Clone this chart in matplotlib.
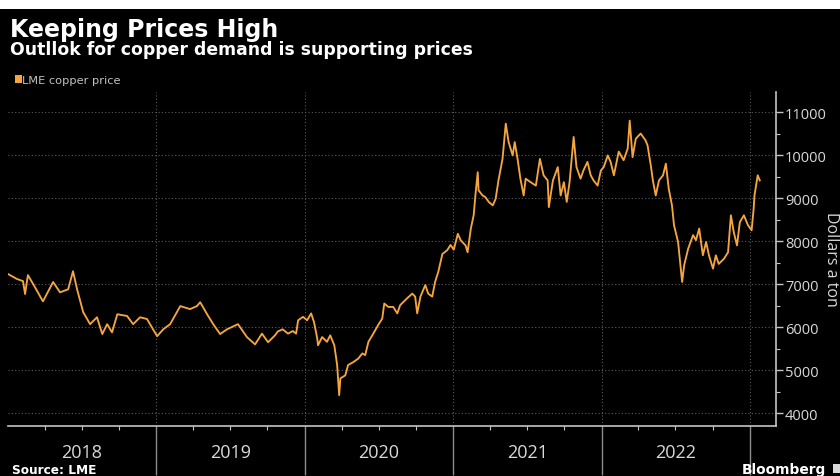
import matplotlib
matplotlib.use("Agg")
import matplotlib.pyplot as plt
import matplotlib.dates as mdates
import matplotlib.transforms as mtransforms
from matplotlib.patches import Rectangle
from matplotlib.ticker import MultipleLocator, FixedLocator, NullFormatter
import pandas as pd

# LME copper cash price, US dollars per metric ton
trade_dates = [
    "2018-01-02", "2018-01-23", "2018-02-07", "2018-02-12", "2018-02-19", "2018-03-04",
    "2018-03-28", "2018-04-22", "2018-05-09", "2018-05-29", "2018-06-10", "2018-06-20",
    "2018-07-05", "2018-07-22", "2018-08-08", "2018-08-21", "2018-09-02", "2018-09-14",
    "2018-09-27", "2018-10-21", "2018-11-05", "2018-11-22", "2018-12-09",
    "2019-01-03", "2019-01-18", "2019-02-04", "2019-03-01", "2019-03-25", "2019-04-11",
    "2019-04-19", "2019-05-06", "2019-05-21", "2019-06-07", "2019-06-24", "2019-07-21",
    "2019-08-12", "2019-09-01", "2019-09-18", "2019-10-03", "2019-10-20", "2019-10-27",
    "2019-11-08", "2019-11-21", "2019-12-03", "2019-12-11", "2019-12-16", "2019-12-28",
    "2020-01-07", "2020-01-17", "2020-01-24", "2020-02-01", "2020-02-03", "2020-02-13",
    "2020-02-25", "2020-03-04", "2020-03-14", "2020-03-21", "2020-03-26", "2020-03-29",
    "2020-04-10", "2020-04-17", "2020-04-30", "2020-05-12", "2020-05-22", "2020-05-29",
    "2020-06-06", "2020-06-18", "2020-06-30", "2020-07-10", "2020-07-15", "2020-07-25",
    "2020-08-06", "2020-08-16", "2020-08-23", "2020-09-09", "2020-09-22", "2020-09-29",
    "2020-10-04", "2020-10-12", "2020-10-24", "2020-10-31", "2020-11-10", "2020-11-17",
    "2020-11-25", "2020-12-05", "2020-12-17", "2020-12-25",
    "2021-01-02", "2021-01-12", "2021-01-19", "2021-01-31", "2021-02-05", "2021-02-13",
    "2021-02-20", "2021-02-25", "2021-03-02", "2021-03-04", "2021-03-14", "2021-03-21",
    "2021-03-29", "2021-04-08", "2021-04-15", "2021-04-22", "2021-05-02", "2021-05-10",
    "2021-05-17", "2021-05-27", "2021-06-01", "2021-06-08", "2021-06-15", "2021-06-23",
    "2021-06-28", "2021-07-10", "2021-07-23", "2021-08-02", "2021-08-11", "2021-08-21",
    "2021-08-24", "2021-09-03", "2021-09-15", "2021-09-22", "2021-09-30", "2021-10-07",
    "2021-10-14", "2021-10-24", "2021-10-31", "2021-11-10", "2021-11-17", "2021-11-27",
    "2021-12-05", "2021-12-12", "2021-12-22", "2021-12-30",
    "2022-01-06", "2022-01-16", "2022-01-23", "2022-01-31", "2022-02-12", "2022-02-24",
    "2022-03-06", "2022-03-11", "2022-03-18", "2022-03-26", "2022-04-07", "2022-04-19",
    "2022-04-24", "2022-05-02", "2022-05-07", "2022-05-14", "2022-05-22", "2022-06-01",
    "2022-06-08", "2022-06-15", "2022-06-23", "2022-06-28", "2022-07-08", "2022-07-13",
    "2022-07-18", "2022-07-23", "2022-08-02", "2022-08-14", "2022-08-21", "2022-08-29",
    "2022-09-07", "2022-09-15", "2022-09-22", "2022-10-02", "2022-10-09", "2022-10-16",
    "2022-10-29", "2022-11-08", "2022-11-15", "2022-11-22", "2022-11-30", "2022-12-07",
    "2022-12-17", "2022-12-27",
    "2023-01-05", "2023-01-10", "2023-01-12", "2023-01-20", "2023-01-25",
]
lme_copper_usd = [
    7230, 7120, 7070, 6770, 7210, 7000,
    6600, 7050, 6810, 6880, 7300, 6880,
    6350, 6070, 6230, 5840, 6070, 5880,
    6300, 6260, 6070, 6230, 6190,
    5790, 5950, 6070, 6490, 6420, 6490,
    6580, 6300, 6070, 5840, 5950, 6070,
    5770, 5600, 5850, 5650, 5810, 5900,
    5950, 5850, 5910, 5850, 6160, 6240,
    6160, 6320, 6120, 5740, 5580, 5770,
    5660, 5810, 5580, 5120, 4420, 4810,
    4880, 5120, 5190, 5270, 5390, 5350,
    5660, 5850, 6050, 6200, 6550, 6470,
    6470, 6320, 6510, 6670, 6780, 6710,
    6320, 6710, 6980, 6780, 6710, 7050,
    7290, 7700, 7790, 7910,
    7800, 8170, 8020, 7900, 7740, 8290,
    8600, 9140, 9600, 9180, 9060, 9020,
    8910, 8830, 8980, 9410, 9910, 10730,
    10300, 9990, 10300, 9910, 9450, 9060,
    9450, 9370, 9290, 9910, 9530, 9410,
    8790, 9410, 9720, 9060, 9370, 8910,
    9370, 10420, 9720, 9450, 9640, 9840,
    9530, 9410, 9290, 9640,
    9720, 9990, 9840, 9530, 10080, 9880,
    10150, 10800, 9950, 10380, 10500, 10340,
    10220, 9750, 9410, 9060, 9410, 9530,
    9800, 9220, 8830, 8370, 7980, 7520,
    7050, 7440, 7830, 8140, 8020, 8290,
    7670, 7980, 7670, 7360, 7670, 7470,
    7590, 7740, 8600, 8210, 7900, 8440,
    8600, 8370,
    8250, 8750, 9060, 9530, 9410,
]
year_labels = ["2018", "2019", "2020", "2021", "2022"]
price_ticks = [4000, 5000, 6000, 7000, 8000, 9000, 10000, 11000]

ORANGE = "#f4a53f"
GRID = "#5c5c5c"
AXIS = "#c4c4c4"
TEXT = "#d9d9d9"
NARROW = ["Liberation Sans Narrow", "Open Sans", "DejaVu Sans"]
SANS = ["Open Sans", "DejaVu Sans"]

W, H = 840, 477
fig = plt.figure(figsize=(W / 100, H / 100), dpi=100, facecolor="black")
fig.patches.append(Rectangle((0, 1 - 9.5 / H), 1, 9.5 / H, transform=fig.transFigure,
                             facecolor="white", edgecolor="none"))

ax = fig.add_axes([8 / W, 1 - 426.5 / H, 768 / W, (426.5 - 93) / H])
ax.set_facecolor("black")

dates = pd.to_datetime(trade_dates)
ax.plot(dates, lme_copper_usd, color=ORANGE, lw=1.35, solid_joinstyle="round", zorder=3)

ax.set_xlim(pd.Timestamp("2018-01-01"), pd.Timestamp("2023-03-06"))
ax.set_ylim(3715, 11465)

# price axis on the right
ax.yaxis.tick_right()
ax.yaxis.set_major_locator(FixedLocator(price_ticks))
ax.yaxis.set_minor_locator(MultipleLocator(500))
ax.tick_params(axis="y", which="major", direction="out", length=5, width=1,
               color=AXIS, labelsize=10.5, labelcolor=TEXT, pad=1.5)
ax.tick_params(axis="y", which="minor", direction="out", length=3, width=0.8, color=AXIS)
for lbl in ax.get_yticklabels():
    lbl.set_fontfamily(SANS)

# time axis: long ticks at year boundaries, short ticks at quarters
year_starts = pd.to_datetime([f"{int(y) + 1}-01-01" for y in year_labels])
ax.xaxis.set_major_locator(FixedLocator(mdates.date2num(year_starts)))
ax.xaxis.set_minor_locator(mdates.MonthLocator(bymonth=[4, 7, 10]))
ax.xaxis.set_major_formatter(NullFormatter())
ax.tick_params(axis="x", which="major", direction="out", length=35, width=1, color="#8c8c8c")
ax.tick_params(axis="x", which="minor", direction="out", length=3, width=0.8, color=AXIS)

ax.grid(True, which="major", axis="both", linestyle=(0, (1, 2)), color=GRID, lw=0.8, zorder=1)

for side in ("top", "left"):
    ax.spines[side].set_visible(False)
for side in ("right", "bottom"):
    ax.spines[side].set_color(AXIS)
    ax.spines[side].set_linewidth(1.2)

# year names centred in each year's span
xform = mtransforms.blended_transform_factory(ax.transData, ax.transAxes)
for y in year_labels:
    mid = pd.Timestamp(f"{y}-07-02")
    ax.text(mid, -0.0795, y, transform=xform, ha="center", va="center",
            fontsize=13, color=TEXT, family=NARROW)

fig.text(823 / W, 1 - 259 / H, "Dollars a ton", rotation=270, ha="left", va="center",
         fontsize=11.5, color=TEXT, family=SANS)

# headline, subtitle and legend
fig.text(10 / W, 1 - 37 / H, "Keeping Prices High", fontsize=17, weight="bold",
         color="white", va="baseline", family="DejaVu Sans")
fig.text(10 / W, 1 - 55 / H, "Outllok for copper demand is supporting prices",
         fontsize=12.4, weight="bold", color="white", va="baseline", family="DejaVu Sans")
fig.patches.append(Rectangle((15 / W, 1 - 83.5 / H), 6.5 / W, 7.5 / H, transform=fig.transFigure,
                             facecolor=ORANGE, edgecolor="none"))
fig.text(22.5 / W, 1 - 84 / H, "LME copper price", fontsize=8.2, color="#c2c2c2",
         va="baseline", family="DejaVu Sans")

# footer
fig.text(12 / W, 1 - 474 / H, "Source: LME", fontsize=8.7, weight="bold", color="white",
         va="baseline", family="DejaVu Sans")
fig.text(742 / W, 1 - 474 / H, "Bloomberg", fontsize=9.9, weight="bold", color="white",
         va="baseline", family="DejaVu Sans")
fig.patches.append(Rectangle((833 / W, 1 - 474 / H), 7 / W, 9 / H, transform=fig.transFigure,
                             facecolor="#d8d8d8", edgecolor="none"))

fig.savefig("out.png", dpi=100, facecolor="black")
